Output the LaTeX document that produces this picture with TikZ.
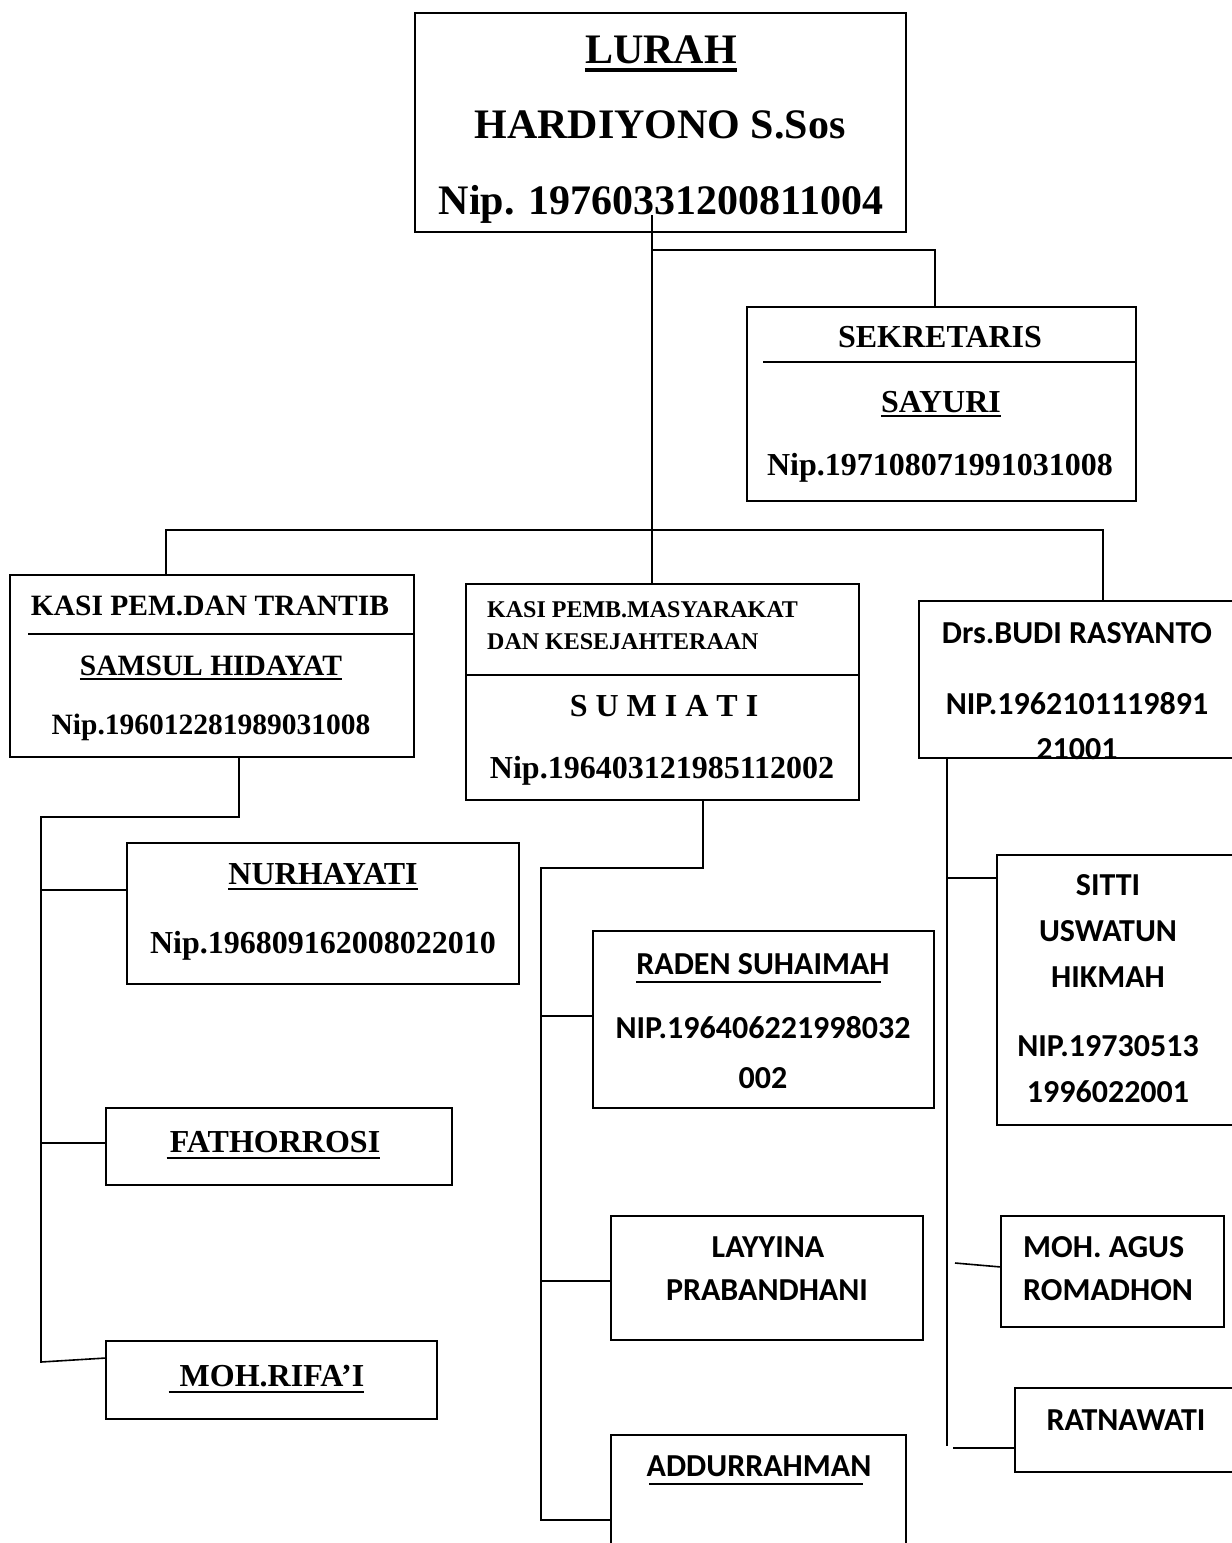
\documentclass[tikz,border=0pt]{standalone}
\usepackage{fontspec}
\setmainfont{Liberation Serif}
\newfontfamily\calibfont{Carlito}
\begin{document}
\begin{tikzpicture}[x=1pt,y=1pt,
  orgbox/.style={draw, line width=1.8pt, inner sep=0pt, outer sep=0pt},
  conn/.style={line width=1.6pt},
  ul/.style={line width=1.4pt},
  sr/.style={font=\bfseries\fontsize{#1}{#1}\selectfont, inner sep=0pt, anchor=base},
  sn/.style={font=\calibfont\bfseries\fontsize{#1}{#1}\selectfont, inner sep=0pt, anchor=base},
  srl/.style={font=\bfseries\fontsize{#1}{#1}\selectfont, inner sep=0pt, anchor=base west},
  snl/.style={font=\calibfont\bfseries\fontsize{#1}{#1}\selectfont, inner sep=0pt, anchor=base west}]
\useasboundingbox (0,0) rectangle (1232,-1543);
\clip (0,0) rectangle (1232,-1543);
\fill[white] (0,0) rectangle (1232,-1543);
\newcommand{\orgboxat}[5]{\node[orgbox, minimum width={(#3-#2)*1pt}, minimum height={(#5-#4)*1pt}] (#1) at ({(#2+#3)/2},{-(#4+#5)/2}) {};}
% boxes
\orgboxat{lurah}{415}{906}{13}{232}
\orgboxat{sek}{747}{1136}{307}{501}
\orgboxat{kpt}{10}{414}{575}{757}
\orgboxat{kpb}{466}{859}{584}{800}
\orgboxat{drs}{919}{1245}{601}{758}
\orgboxat{nur}{127}{519}{843}{984}
\orgboxat{fat}{106}{452}{1108}{1185}
\orgboxat{rif}{106}{437}{1341}{1419}
\orgboxat{rad}{593}{934}{931}{1108}
\orgboxat{lay}{611}{923}{1216}{1340}
\orgboxat{add}{611}{906}{1435}{1560}
\orgboxat{sit}{997}{1245}{855}{1125}
\orgboxat{agus}{1001}{1224}{1216}{1327}
\orgboxat{rat}{1015}{1245}{1388}{1472}
% dividers
\coordinate (sekdiv) at (763,-362);
\draw[conn] (sekdiv) -- (sekdiv -| sek.east);
\coordinate (kptdiv) at (28,-634);
\draw[conn] (kptdiv) -- (kptdiv -| kpt.east);
\coordinate (kpbdiv) at (466,-675);
\draw[conn] (kpbdiv) -- (kpbdiv -| kpb.east);
% texts
\node[sr=42] (tl1) at (661,-63) {LURAH};
\draw[line width=3.5pt] ([yshift=-7pt]tl1.base west) -- ([yshift=-7pt]tl1.base east);
\node[sr=42] (tl2) at (660,-138) {HARDIYONO S.Sos};
\node[sr=42] (tl3) at (661,-214) {Nip. 19760331200811004};
\node[sr=32] (ts1) at (940,-347) {SEKRETARIS};
\node[sr=32] (ts2) at (941,-412) {SAYURI};
\draw[ul] ([yshift=-4pt]ts2.base west) -- ([yshift=-4pt]ts2.base east);
\node[sr=32] (ts3) at (940,-475) {Nip.197108071991031008};
\node[sr=29.5] (tk1) at (210,-615) {KASI PEM.DAN TRANTIB};
\node[sr=29.5] (tk2) at (211,-675) {SAMSUL HIDAYAT};
\draw[ul] ([yshift=-4pt]tk2.base west) -- ([yshift=-4pt]tk2.base east);
\node[sr=29.5] (tk3) at (211,-734) {Nip.196012281989031008};
\node[srl=24] (tb1) at (487,-617) {KASI PEMB.MASYARAKAT};
\node[srl=24] (tb2) at (487,-649) {DAN KESEJAHTERAAN};
\node[sr=32] (tb3) at (664,-716) {S U M I A T I};
\node[sr=32] (tb4) at (662,-778) {Nip.196403121985112002};
\node[sn=32] (td1) at (1077,-643) {Drs.BUDI RASYANTO};
\node[sn=32] (td2) at (1077,-714) {NIP.1962101119891};
\node[sn=32] (td3) at (1077,-759) {21001};
\node[sr=32] (tn1) at (323,-884) {NURHAYATI};
\draw[ul] ([yshift=-5pt]tn1.base west) -- ([yshift=-5pt]tn1.base east);
\node[sr=32] (tn2) at (323,-953) {Nip.196809162008022010};
\node[sr=32] (tf1) at (275,-1152) {FATHORROSI};
\draw[ul] ([yshift=-6pt,xshift=-3pt]tf1.base west) -- ([yshift=-6pt]tf1.base east);
\node[sr=32] (tr1) at (272,-1386) {MOH.RIFA’I};
\draw[ul] ([yshift=-6pt,xshift=-11pt]tr1.base west) -- ([yshift=-6pt]tr1.base east);
\node[sn=32] (trd1) at (763,-974) {RADEN SUHAIMAH};
\draw[ul] ([yshift=-8pt]trd1.base west) -- ([yshift=-8pt,xshift=-9pt]trd1.base east);
\node[sn=32] (trd2) at (763,-1038) {NIP.196406221998032};
\node[sn=32] (trd3) at (763,-1088) {002};
\node[sn=32] (tly1) at (768,-1257) {LAYYINA};
\node[sn=32] (tly2) at (767,-1300) {PRABANDHANI};
\node[sn=32] (tad1) at (759,-1476) {ADDURRAHMAN};
\draw[ul] ([yshift=-8pt,xshift=3pt]tad1.base west) -- ([yshift=-8pt,xshift=-9pt]tad1.base east);
\node[sn=32] (tst1) at (1108,-895) {SITTI};
\node[sn=32] (tst2) at (1108,-941) {USWATUN};
\node[sn=32] (tst3) at (1108,-987) {HIKMAH};
\node[sn=32] (tst4) at (1108,-1056) {NIP.19730513};
\node[sn=32] (tst5) at (1108,-1102) {1996022001};
\node[snl=32] (tag1) at (1023,-1257) {MOH. AGUS};
\node[snl=32] (tag2) at (1023,-1300) {ROMADHON};
\node[sn=32] (trt1) at (1126,-1430) {RATNAWATI};
% connectors: top
\coordinate (c0) at (652,-215);
\draw[conn] (c0) -- (c0 |- kpb.north);
\coordinate (c1) at (652,-250);
\coordinate (c1s) at (935,-307);
\draw[conn] (c1) -| (c1s);
\coordinate (c2) at (652,-530);
\coordinate (c2l) at (166,-575);
\coordinate (c2r) at (1103,-601);
\draw[conn] (c2l) |- (c2) -| (c2r);
% left column
\coordinate (l0) at (239,-757);
\coordinate (l1) at (41,-817);
\coordinate (lb) at (41,-1362);
\coordinate (nurin) at (127,-890);
\coordinate (fatin) at (106,-1143);
\coordinate (rifin) at (106,-1358);
\draw[conn] (l0) |- (l1) -- (lb) -- (rifin);
\draw[conn] (l1 |- nurin) -- (nurin);
\draw[conn] (l1 |- fatin) -- (fatin);
% middle column
\coordinate (m0) at (703,-800);
\coordinate (m1) at (541,-868);
\coordinate (mb) at (541,-1520);
\coordinate (radin) at (593,-1016);
\coordinate (layin) at (611,-1281);
\coordinate (addin) at (611,-1520);
\draw[conn] (m0) |- (m1) -- (mb) -- (addin);
\draw[conn] (m1 |- radin) -- (radin);
\draw[conn] (m1 |- layin) -- (layin);
% right column
\coordinate (r0) at (947,-758);
\coordinate (rb) at (947,-1446);
\coordinate (sitin) at (997,-878);
\coordinate (agusout) at (955,-1263);
\coordinate (agusin) at (1001,-1267);
\coordinate (ratout) at (953,-1448);
\coordinate (ratin) at (1015,-1448);
\draw[conn] (r0) -- (rb);
\draw[conn] (r0 |- sitin) -- (sitin);
\draw[conn] (agusout) -- (agusin);
\draw[conn] (ratout) -- (ratin);
\end{tikzpicture}
\end{document}
